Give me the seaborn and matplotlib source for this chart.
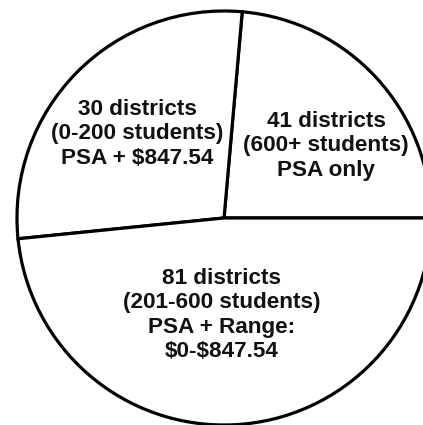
import matplotlib
matplotlib.use("Agg")
import matplotlib.pyplot as plt
import seaborn as sns

# slice shares as drawn (degrees, in percent)
groups = ["600+", "0-200", "201-600"]
shares = [23.6, 28.0, 48.4]
labels = [
    "41 districts\n(600+ students)\nPSA only",
    "30 districts\n(0-200 students)\nPSA + \\$847.54",
    "81 districts\n(201-600 students)\nPSA + Range:\n\\$0-\\$847.54",
]
# label centres in pie units (radius = 1)
label_pos = [(0.493, 0.348), (-0.420, 0.406), (-0.010, -0.469)]

sns.set_theme(style="white")
plt.rcParams["font.family"] = ["Liberation Sans", "DejaVu Sans"]

fig = plt.figure(figsize=(4.23, 4.25), dpi=100, facecolor="white")
ax = fig.add_axes([0, 0, 1, 1])
ax.pie(shares, startangle=0, counterclock=True, radius=1.0,
       colors=["white"] * len(shares),
       wedgeprops={"edgecolor": "black", "linewidth": 2.3})
for txt, (x, y) in zip(labels, label_pos):
    ax.text(x, y, txt, ha="center", va="center", multialignment="center",
            fontsize=16.2, fontweight="bold", color="#111111", linespacing=1.2)

ax.set_xlim(-1.082, 0.961)
ax.set_ylim(-1.0, 1.053)
ax.set_aspect("auto")
ax.axis("off")

fig.savefig("out.png", dpi=100, facecolor="white")
